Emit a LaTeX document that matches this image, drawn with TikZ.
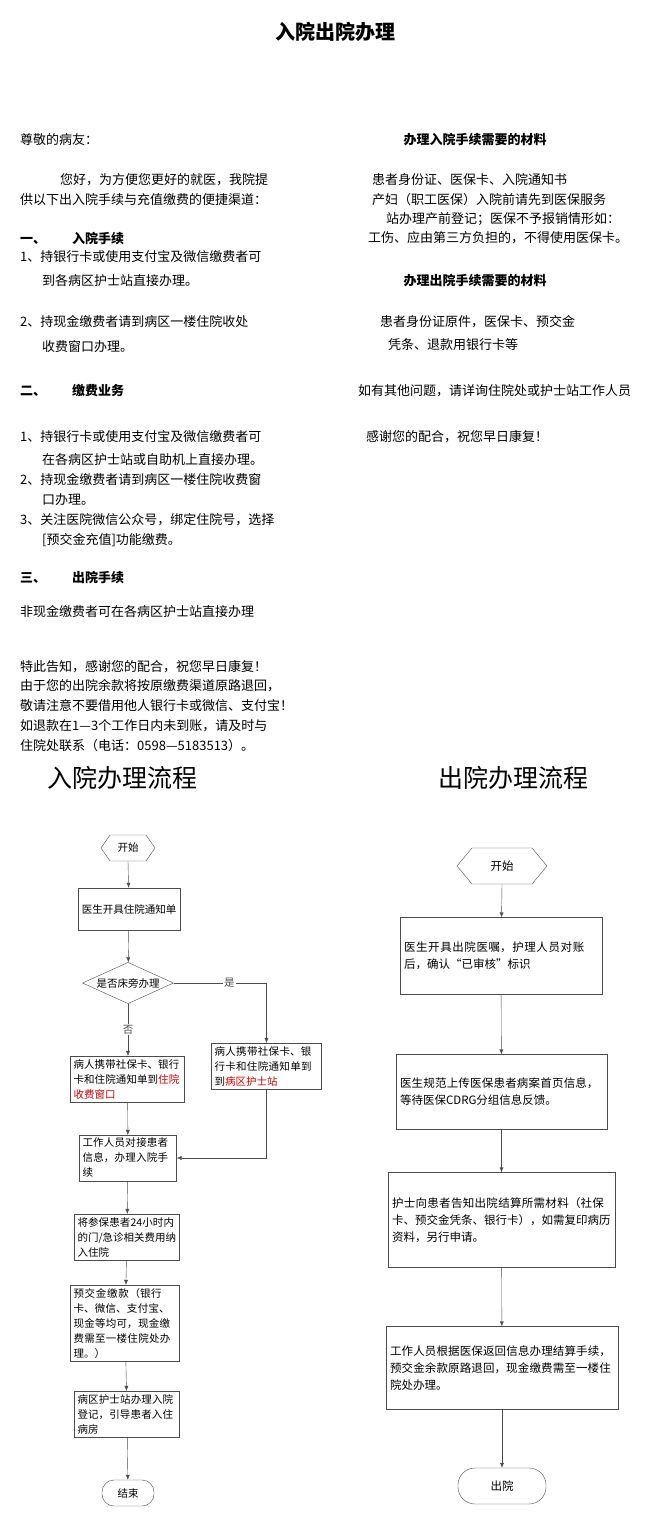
\documentclass[tikz,border=0pt]{standalone}
\usepackage{fontspec}
\setmainfont{Noto Sans CJK SC}
\newfontfamily\cjkbold[BoldFont={* Bold}]{Noto Sans CJK SC}
\usetikzlibrary{shapes.geometric,arrows.meta}
\XeTeXlinebreaklocale "zh"
\XeTeXlinebreakskip=0pt plus 1pt

\tikzset{
  txt/.style={anchor=west,font=\fontsize{13}{15}\selectfont,inner sep=0pt},
  head/.style={txt,font=\fontsize{13}{15}\selectfont\bfseries},
  flow/.style={draw=black!70,thin,align=left,inner sep=3pt,font=\fontsize{10.5}{15}\selectfont},
  flowb/.style={draw=black!70,thin,align=left,inner sep=4pt,font=\fontsize{11.5}{17}\selectfont},
  hexa/.style={draw=black!70,shape=regular polygon,regular polygon sides=6,shape border rotate=90,
    minimum size=0pt,inner sep=0pt},
  arr/.style={-{Latex[length=5pt,width=4pt]},black!70},
}
\newcommand{\hot}[1]{\textcolor{red!80!black}{#1}}

\begin{document}
\begin{tikzpicture}[x=1pt,y=-1pt]
\useasboundingbox[fill=white] (0,0) rectangle (670,1526);
% title
\node[font=\fontsize{20}{22}\selectfont\bfseries] (title) at (335,32) {入院出院办理};

% left column
\node[txt] (l1) at (20,140) {尊敬的病友：};
\node[txt] (l2) at (60,180) {您好，为方便您更好的就医，我院提};
\node[txt] (l3) at (20,200) {供以下出入院手续与充值缴费的便捷渠道：};
\node[head] (h1) at (20,238) {一、\hspace{2em}入院手续};
\node[txt] (l4) at (20,257) {1、持银行卡或使用支付宝及微信缴费者可};
\node[txt] (l5) at (42,281) {到各病区护士站直接办理。};
\node[txt] (l6) at (20,322) {2、持现金缴费者请到病区一楼住院收处};
\node[txt] (l7) at (42,347) {收费窗口办理。};
\node[head] (h2) at (20,391) {二、\hspace{2em}缴费业务};
\node[txt] (l8) at (20,437) {1、持银行卡或使用支付宝及微信缴费者可};
\node[txt] (l9) at (42,460) {在各病区护士站或自助机上直接办理。};
\node[txt] (l10) at (20,480) {2、持现金缴费者请到病区一楼住院收费窗};
\node[txt] (l11) at (42,500) {口办理。};
\node[txt] (l12) at (20,520) {3、关注医院微信公众号，绑定住院号，选择};
\node[txt] (l13) at (42,540) {[预交金充值]功能缴费。};
\node[head] (h3) at (20,577) {三、\hspace{2em}出院手续};
\node[txt] (l14) at (20,612) {非现金缴费者可在各病区护士站直接办理};
\node[txt] (l15) at (20,667) {特此告知，感谢您的配合，祝您早日康复！};
\node[txt] (l16) at (20,686) {由于您的出院余款将按原缴费渠道原路退回，};
\node[txt] (l17) at (20,706) {敬请注意不要借用他人银行卡或微信、支付宝！};
\node[txt] (l18) at (20,726) {如退款在1—3个工作日内未到账，请及时与};
\node[txt] (l19) at (20,746) {住院处联系（电话：0598—5183513）。};

% right column
\node[head,anchor=center] (r0) at (475,140) {办理入院手续需要的材料};
\node[txt] (r1) at (372,180) {患者身份证、医保卡、入院通知书};
\node[txt] (r2) at (372,200) {产妇（职工医保）入院前请先到医保服务};
\node[txt] (r3) at (386,219) {站办理产前登记；医保不予报销情形如：};
\node[txt] (r4) at (368,238) {工伤、应由第三方负担的，不得使用医保卡。};
\node[head,anchor=center] (r5) at (475,281) {办理出院手续需要的材料};
\node[txt] (r6) at (380,322) {患者身份证原件，医保卡、预交金};
\node[txt] (r7) at (388,345) {凭条、退款用银行卡等};
\node[txt] (r8) at (358,391) {如有其他问题，请详询住院处或护士站工作人员};
\node[txt] (r9) at (366,437) {感谢您的配合，祝您早日康复！};

% flow titles
\node[font=\fontsize{25}{28}\selectfont] (ft1) at (122,778) {入院办理流程};
\node[font=\fontsize{25}{28}\selectfont] (ft2) at (513,778) {出院办理流程};

% admission flow
\node[hexa,minimum width=52pt,minimum height=26pt,regular polygon,font=\fontsize{10.5}{12}\selectfont,
  draw=none] (a0h) at (128,848) {};
\draw[black!70] (101,848) -- (110,835) -- (146,835) -- (155,848) -- (146,861) -- (110,861) -- cycle;
\node[font=\fontsize{10.5}{12}\selectfont] (a0) at (128,848) {开始};
\node[flow,minimum width=102pt,minimum height=42pt] (a1) at (129,909) {医生开具住院通知单};
\node[draw=black!70,diamond,aspect=2.2,inner sep=1pt,font=\fontsize{10.5}{12}\selectfont] (a2) at (128,983) {是否床旁办理};
\node[flow,text width=108pt] (a3) at (127.5,1079) {病人携带社保卡、银行卡和住院通知单到\hot{住院收费窗口}};
\node[flow,text width=104pt] (a4) at (266.5,1066) {病人携带社保卡、银行卡和住院通知单到到\hot{病区护士站}};
\node[flow,text width=91pt] (a5) at (128,1158) {工作人员对接患者信息，办理入院手续};
\node[flow,text width=99pt] (a6) at (127,1237) {将参保患者24小时内的门/急诊相关费用纳入住院};
\node[flow,text width=103pt] (a7) at (125,1323) {预交金缴款（银行卡、微信、支付宝、现金等均可，现金缴费需至一楼住院处办理。）};
\node[flow,text width=99pt] (a8) at (127,1414) {病区护士站办理入院登记，引导患者入住病房};
\node[draw=black!70,rounded corners=12pt,minimum width=52pt,minimum height=26pt,
  font=\fontsize{10.5}{12}\selectfont] (a9) at (128,1493) {结束};

\draw[arr] (a0) ++(0,13) -- (a1);
\draw[arr] (a1) -- (a2);
\draw[arr] (a2) -- node[fill=white,inner sep=1pt,font=\fontsize{10.5}{12}\selectfont] {否} (a2 |- a3.north);
\draw[arr] (a2.east) -- node[fill=white,inner sep=1pt,pos=0.6,font=\fontsize{10.5}{12}\selectfont] {是} (a2.east -| a4) -- (a4.north);
\draw[arr] (a3) -- (a5);
\draw[arr] (a4.south) |- (a5.east);
\draw[arr] (a5) -- (a6);
\draw[arr] (a6) -- (a7);
\draw[arr] (a7) -- (a8);
\draw[arr] (a8) -- (a9);

% discharge flow
\draw[black!70] (457,866) -- (472,848) -- (532,848) -- (547,866) -- (532,884) -- (472,884) -- cycle;
\node[font=\fontsize{11.5}{13}\selectfont] (b0) at (502,866) {开始};
\node[flowb,text width=194pt,minimum height=77pt] (b1) at (501,956) {医生开具出院医嘱，护理人员对账后，确认“已审核”标识};
\node[flowb,text width=203pt,minimum height=75pt] (b2) at (501.5,1092) {医生规范上传医保患者病案首页信息，等待医保CDRG分组信息反馈。};
\node[flowb,text width=219pt,minimum height=95pt] (b3) at (501.5,1220) {护士向患者告知出院结算所需材料（社保卡、预交金凭条、银行卡），如需复印病历资料，另行申请。};
\node[flowb,text width=224pt,minimum height=83pt] (b4) at (502,1368) {工作人员根据医保返回信息办理结算手续，预交金余款原路退回，现金缴费需至一楼住院处办理。};
\node[draw=black!70,rounded corners=17pt,minimum width=88pt,minimum height=36pt,
  font=\fontsize{11.5}{13}\selectfont] (b5) at (502,1486) {出院};

\draw[arr] (b0) ++(0,18) -- (b1);
\draw[arr] (b1) -- (b2);
\draw[arr] (b2) -- (b3);
\draw[arr] (b3) -- (b4);
\draw[arr] (b4) -- (b5);
\end{tikzpicture}
\end{document}
